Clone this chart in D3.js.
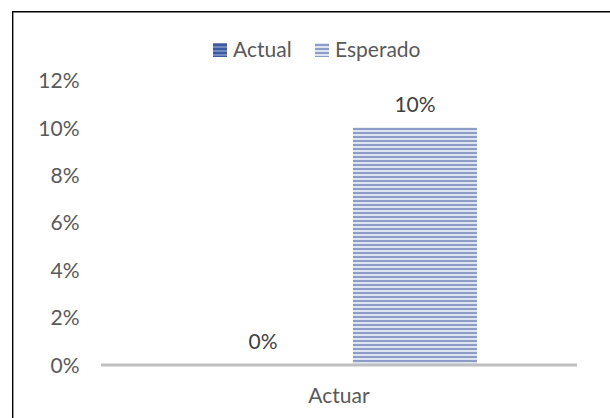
<!DOCTYPE html>
<html>
<head>
<meta charset="utf-8">
<script src="https://cdn.jsdelivr.net/npm/d3@7"></script>
<style>
  html, body { margin: 0; padding: 0; background: #fff; }
  svg { display: block; font-family: Lato, "Open Sans", sans-serif; }
</style>
</head>
<body>
<svg id="chart" width="610" height="418"></svg>
<script>
// Chart data
const categories = ["Actuar"];
const seriesNames = ["Actual", "Esperado"];
const actualValues = [0];
const esperadoValues = [0.10];
const yTicks = [0, 0.02, 0.04, 0.06, 0.08, 0.10, 0.12];

const svg = d3.select("#chart");
const textColor = "#595959";
const fontSize = 21;

// Striped fills for the two series
const defs = svg.append("defs");
const patterns = [
  { id: "pat-actual", dark: "#3c5a9f", light: "#7488c2" },
  { id: "pat-esperado", dark: "#8e9cc8", light: "#dfe4f1" }
];
patterns.forEach(p => {
  const pat = defs.append("pattern")
    .attr("id", p.id)
    .attr("patternUnits", "userSpaceOnUse")
    .attr("width", 8).attr("height", 4);
  pat.append("rect").attr("width", 8).attr("height", 4).attr("fill", p.light);
  pat.append("rect").attr("width", 8).attr("height", 2).attr("fill", p.dark);
});
const fills = ["url(#pat-actual)", "url(#pat-esperado)"];

// Outer frame (open on the right and bottom)
svg.append("path")
  .attr("d", "M12.7,418 V11.7 H610")
  .attr("fill", "none")
  .attr("stroke", "#000")
  .attr("stroke-width", 1.4);

// Scales
const plot = { left: 101, right: 577, top: 80, bottom: 364.5 };
const y = d3.scaleLinear().domain([0, 0.12]).range([plot.bottom, plot.top]);
const x0 = d3.scaleBand().domain(categories).range([plot.left, plot.right]);
const x1 = d3.scaleBand().domain(seriesNames).range([100, x0.bandwidth() - 100]).paddingInner(0.184);

// Y axis labels
const yAxis = d3.axisLeft(y).tickValues(yTicks).tickFormat(d3.format(".0%")).tickSize(0).tickPadding(0);
const yg = svg.append("g").attr("transform", "translate(79.5,0)").call(yAxis);
yg.select(".domain").remove();
yg.selectAll("text")
  .attr("fill", textColor)
  .attr("font-size", fontSize)
  .attr("font-family", "Lato, 'Open Sans', sans-serif")
  .attr("text-anchor", "end")
  .attr("dy", null)
  .attr("y", 7.6)
  .attr("x", 0);

// Bars
const rows = categories.map((c, i) => ({
  cat: c,
  vals: [
    { name: seriesNames[0], value: actualValues[i], fill: fills[0] },
    { name: seriesNames[1], value: esperadoValues[i], fill: fills[1] }
  ]
}));

const groups = svg.selectAll("g.cat").data(rows).join("g")
  .attr("class", "cat")
  .attr("transform", d => `translate(${x0(d.cat)},0)`);

groups.selectAll("rect").data(d => d.vals).join("rect")
  .attr("x", d => x1(d.name))
  .attr("width", x1.bandwidth())
  .attr("y", d => y(d.value))
  .attr("height", d => y(0) - y(d.value))
  .attr("fill", d => d.fill);

// Data labels
groups.selectAll("text.lbl").data(d => d.vals).join("text")
  .attr("class", "lbl")
  .attr("x", d => x1(d.name) + x1.bandwidth() / 2)
  .attr("y", d => y(d.value) - 15.6)
  .attr("text-anchor", "middle")
  .attr("fill", "#404040")
  .attr("font-size", fontSize)
  .text(d => d3.format(".0%")(d.value));

// Category axis
const xAxis = d3.axisBottom(x0).tickSize(0).tickPadding(0);
const xg = svg.append("g").attr("transform", `translate(0,${plot.bottom})`).call(xAxis);
xg.select(".domain").remove();
xg.selectAll("text")
  .attr("fill", textColor)
  .attr("font-size", fontSize)
  .attr("font-family", "Lato, 'Open Sans', sans-serif")
  .attr("dy", null)
  .attr("y", 38.8);
svg.append("line")
  .attr("x1", plot.left).attr("x2", plot.right)
  .attr("y1", plot.bottom + 0.5).attr("y2", plot.bottom + 0.5)
  .attr("stroke", "#bfbfbf").attr("stroke-width", 3.2);

// Legend
const legendItems = [
  { name: seriesNames[0], fill: fills[0], x: 213 },
  { name: seriesNames[1], fill: fills[1], x: 315 }
];
const lg = svg.append("g");
legendItems.forEach(it => {
  lg.append("rect").attr("x", it.x).attr("y", 43).attr("width", 14).attr("height", 14).attr("fill", it.fill);
  lg.append("text").attr("x", it.x + 20).attr("y", 56.7)
    .attr("fill", textColor).attr("font-size", fontSize).text(it.name);
});
</script>
</body>
</html>
